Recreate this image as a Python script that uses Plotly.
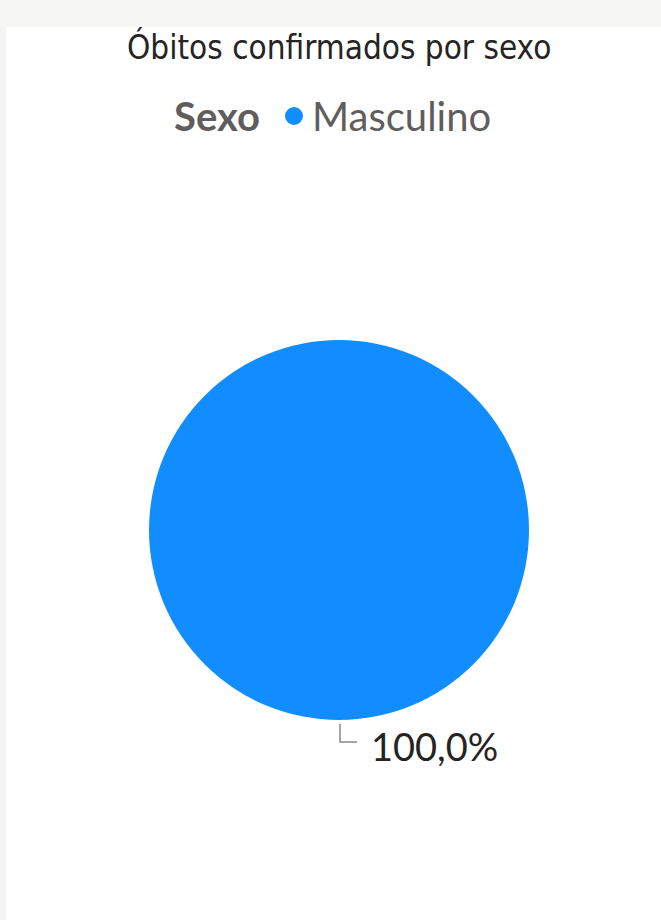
import plotly.graph_objects as go

# dados
sexo = ["Masculino"]
obitos = [1]
cores = ["#118DFF"]

W, H = 661, 920
total = sum(obitos)
pct = [v / total * 100 for v in obitos]
rotulo = [f"{p:.1f}".replace(".", ",") + "%" for p in pct]

# posição da pizza em px
cx, cy, r = 339, 530, 190
px = lambda x: x / W
py = lambda y: 1 - y / H

fig = go.Figure()
fig.add_trace(go.Pie(
    labels=sexo, values=obitos, marker=dict(colors=cores, line=dict(width=0)),
    textinfo="none", sort=False, showlegend=False, hoverinfo="label+percent",
    domain=dict(x=[px(cx - r), px(cx + r)], y=[py(cy + r), py(cy - r)]),
))

# fundo com sombra leve
fig.add_shape(type="rect", xref="paper", yref="paper", x0=0, x1=1, y0=py(27), y1=1,
              fillcolor="#f6f6f5", line_width=0, layer="below")
fig.add_shape(type="rect", xref="paper", yref="paper", x0=0, x1=px(6), y0=0, y1=py(27),
              fillcolor="#f3f3f2", line_width=0, layer="below")

# linha guia do rótulo
ly = cy + r + 22
fig.add_shape(type="path", xref="paper", yref="paper",
              path=f"M {px(cx + 1)},{py(cy + r + 4)} L {px(cx + 1)},{py(ly)} L {px(cx + 18)},{py(ly)}",
              line=dict(color="#8a8886", width=1.5))
fig.add_annotation(x=px(cx + 30), y=py(ly + 4), xref="paper", yref="paper",
                   text=rotulo[0], showarrow=False, xanchor="left", yanchor="middle",
                   font=dict(family="Lato, Noto Sans", size=38, color="#252423"))

# título
fig.add_annotation(x=px(339), y=py(47), xref="paper", yref="paper",
                   text="Óbitos confirmados por sexo", showarrow=False,
                   xanchor="center", yanchor="middle",
                   font=dict(family="DejaVu Sans Condensed, Noto Sans", size=33, color="#252423"))

# legenda
fig.add_annotation(x=px(172), y=py(116), xref="paper", yref="paper",
                   text="<b>Sexo</b>", showarrow=False, xanchor="left", yanchor="middle",
                   font=dict(family="Lato, Noto Sans", size=40, color="#605E5C"))
fig.add_shape(type="circle", xref="paper", yref="paper",
              x0=px(285), x1=px(303), y0=py(125), y1=py(107),
              fillcolor=cores[0], line_width=0)
fig.add_annotation(x=px(310), y=py(116), xref="paper", yref="paper",
                   text=sexo[0], showarrow=False, xanchor="left", yanchor="middle",
                   font=dict(family="Lato, Noto Sans", size=40, color="#605E5C"))

fig.update_layout(width=W, height=H, margin=dict(l=0, r=0, t=0, b=0),
                  paper_bgcolor="white", plot_bgcolor="white")
fig.write_html("out.html", config={"displayModeBar": False},
               post_script="document.body.style.margin='0';")
